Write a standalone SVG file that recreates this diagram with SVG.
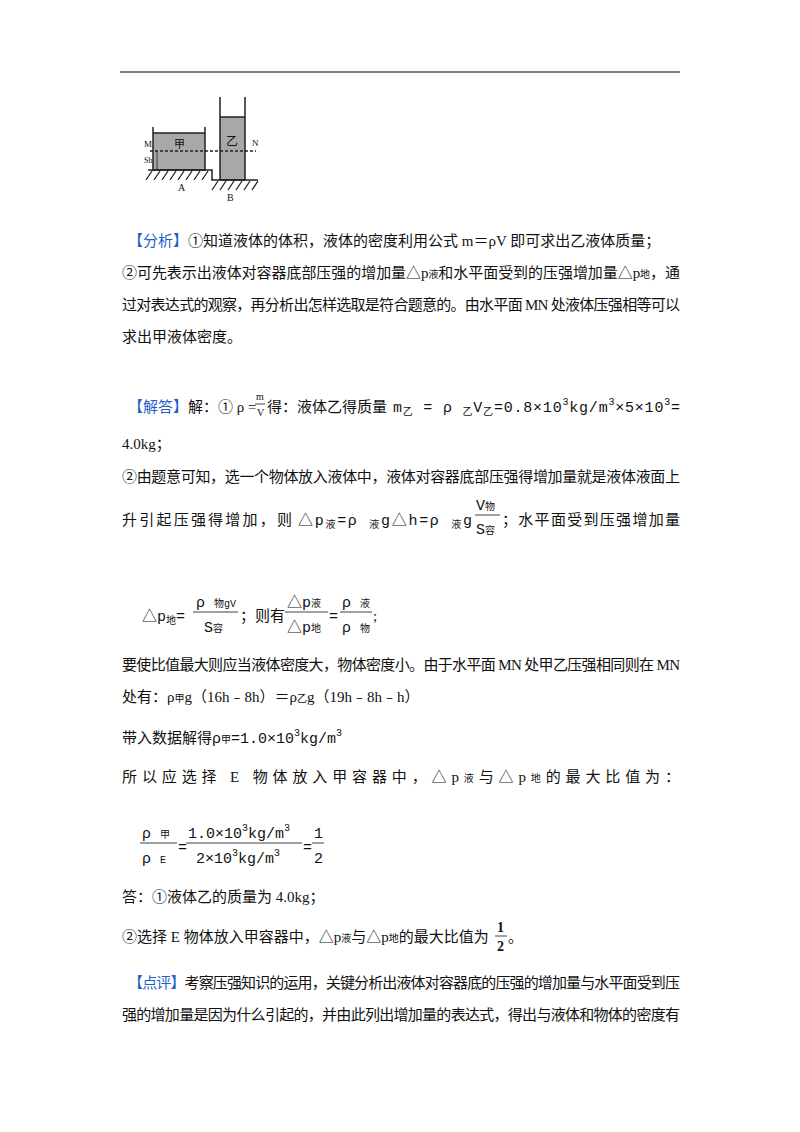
<svg xmlns="http://www.w3.org/2000/svg" width="800" height="1132" viewBox="0 0 800 1132">
<style>
text{font-family:"Liberation Serif","Noto Sans CJK SC",serif;font-size:15px;fill:#111}
.b{fill:#1f5fc8}
.s{font-size:10px}
.m{font-family:"Liberation Mono","Noto Sans CJK SC",monospace;font-size:15px}
.h{stroke:#222;stroke-width:1.3}
</style>
<rect width="800" height="1132" fill="#fff"/>
<line x1="120" y1="72" x2="680" y2="72" stroke="#000" stroke-width="1.2"/>
<g id="figure">
<rect x="153" y="133" width="52" height="37" fill="#a8a8a8"/>
<rect x="220" y="117" width="25" height="63" fill="#a8a8a8"/>
<g stroke="#222" stroke-width="1.5" fill="none">
<polyline points="153,127 153,170 205,170 205,127"/>
<line x1="153" y1="133" x2="205" y2="133"/>
<polyline points="220,97 220,180 245,180 245,97"/>
<line x1="220" y1="117" x2="245" y2="117"/>
<polyline points="148,170 212,170 212,180 258,180"/>
<line x1="150" y1="151" x2="256" y2="151" stroke-dasharray="3,2"/>
<line x1="157" y1="151" x2="157" y2="170" stroke-width="0.8"/>
</g>
<g class="h">
<path d="M152,171l-6,9M160,171l-6,9M168,171l-6,9M176,171l-6,9M184,171l-6,9M192,171l-6,9M200,171l-6,9M208,171l-6,9M218,181l-6,9M226,181l-6,9M234,181l-6,9M242,181l-6,9M250,181l-6,9M258,181l-6,9"/>
</g>
<text x="144" y="147" style="font-size:9px">M</text>
<text x="252" y="146" style="font-size:9px">N</text>
<text x="144" y="163" style="font-size:8px">Sh</text>
<text x="174" y="148" style="font-size:11px">甲</text>
<text x="226" y="146" style="font-size:12px">乙</text>
<text x="178" y="191" style="font-size:10px">A</text>
<text x="227" y="201" style="font-size:10px">B</text>
</g>
<g id="text">
<text x="128" y="246"><tspan class="b">【分析】</tspan>①知道液体的体积，液体的密度利用公式 m＝ρV 即可求出乙液体质量；</text>
<text x="122" y="278" textLength="558" lengthAdjust="spacing">②可先表示出液体对容器底部压强的增加量△p<tspan class="s">液</tspan>和水平面受到的压强增加量△p<tspan class="s">地</tspan>，通</text>
<text x="122" y="310" textLength="558" lengthAdjust="spacing">过对表达式的观察，再分析出怎样选取是符合题意的。由水平面 MN 处液体压强相等可以</text>
<text x="122" y="342">求出甲液体密度。</text>
<text x="128" y="412"><tspan class="b">【解答】</tspan>解：① ρ =</text>
<text x="256" y="400" class="s">m</text><line x1="255" y1="404" x2="265" y2="404" stroke="#111" stroke-width="0.8"/><text x="257" y="416" class="s">V</text>
<text x="267" y="412">得：液体乙得质量</text>
<text x="393" y="412" class="m" textLength="287" lengthAdjust="spacing">m<tspan class="s" dy="3">乙</tspan><tspan dy="-3"> = ρ </tspan><tspan class="s" dy="3">乙</tspan><tspan dy="-3">V</tspan><tspan class="s" dy="3">乙</tspan><tspan dy="-3">=0.8×10</tspan><tspan class="s" dy="-7">3</tspan><tspan dy="7">kg/m</tspan><tspan class="s" dy="-7">3</tspan><tspan dy="7">×5×10</tspan><tspan class="s" dy="-7">3</tspan><tspan dy="7">=</tspan></text>
<text x="122" y="449">4.0kg；</text>
<text x="122" y="482" textLength="558" lengthAdjust="spacing">②由题意可知，选一个物体放入液体中，液体对容器底部压强得增加量就是液体液面上</text>
<text x="122" y="525" textLength="170" lengthAdjust="spacing">升引起压强得增加，则</text>
<text x="298" y="525" class="m" textLength="174" lengthAdjust="spacing">△p<tspan class="s" dy="3">液</tspan><tspan dy="-3">=ρ </tspan><tspan class="s" dy="3">液</tspan><tspan dy="-3">g△h=ρ </tspan><tspan class="s" dy="3">液</tspan><tspan dy="-3">g</tspan></text>
<text x="476" y="510" class="m">V<tspan class="s">物</tspan></text>
<line x1="475" y1="515" x2="500" y2="515" stroke="#111" stroke-width="0.8"/>
<text x="476" y="534" class="m">S<tspan class="s">容</tspan></text>
<text x="502" y="525" textLength="178" lengthAdjust="spacing">；水平面受到压强增加量</text>
<text x="142" y="621" class="m">△p<tspan class="s" dy="3">地</tspan><tspan dy="-3">=</tspan></text>
<text x="196" y="607" class="m">ρ <tspan class="s">物</tspan><tspan class="s">gV</tspan></text>
<line x1="193" y1="612" x2="238" y2="612" stroke="#111" stroke-width="0.8"/>
<text x="204" y="632" class="m">S<tspan class="s">容</tspan></text>
<text x="240" y="621">；则有</text>
<text x="287" y="607" class="m">△p<tspan class="s">液</tspan></text>
<line x1="285" y1="612" x2="328" y2="612" stroke="#111" stroke-width="0.8"/>
<text x="287" y="632" class="m">△p<tspan class="s">地</tspan></text>
<text x="329" y="621" class="m">=</text>
<text x="342" y="607" class="m">ρ <tspan class="s">液</tspan></text>
<line x1="340" y1="612" x2="372" y2="612" stroke="#111" stroke-width="0.8"/>
<text x="342" y="632" class="m">ρ <tspan class="s">物</tspan></text>
<text x="373" y="621">;</text>
<text x="122" y="670" textLength="558" lengthAdjust="spacing">要使比值最大则应当液体密度大，物体密度小。由于水平面 MN 处甲乙压强相同则在 MN</text>
<text x="122" y="702">处有：ρ<tspan class="s">甲</tspan>g（16h﹣8h）＝ρ<tspan class="s">乙</tspan>g（19h﹣8h﹣h）</text>
<text x="122" y="743">带入数据解得<tspan class="m">ρ<tspan class="s">甲</tspan>=1.0×10<tspan class="s" dy="-7">3</tspan><tspan dy="7">kg/m</tspan><tspan class="s" dy="-7">3</tspan></tspan></text>
<text x="122" y="782" textLength="558" lengthAdjust="spacing">所以应选择 E 物体放入甲容器中，△p<tspan class="s">液</tspan>与△p<tspan class="s">地</tspan>的最大比值为：</text>
<text x="142" y="838" class="m">ρ <tspan class="s">甲</tspan></text>
<line x1="140" y1="843" x2="177" y2="843" stroke="#111" stroke-width="0.8"/>
<text x="142" y="863" class="m">ρ <tspan class="s">E</tspan></text>
<text x="178" y="852" class="m">=</text>
<text x="188" y="838" class="m">1.0×10<tspan class="s" dy="-7">3</tspan><tspan dy="7">kg/m</tspan><tspan class="s" dy="-7">3</tspan></text>
<line x1="186" y1="843" x2="302" y2="843" stroke="#111" stroke-width="0.8"/>
<text x="196" y="863" class="m">2×10<tspan class="s" dy="-7">3</tspan><tspan dy="7">kg/m</tspan><tspan class="s" dy="-7">3</tspan></text>
<text x="303" y="852" class="m">=</text>
<text x="314" y="838" class="m">1</text>
<line x1="312" y1="843" x2="324" y2="843" stroke="#111" stroke-width="0.8"/>
<text x="314" y="863" class="m">2</text>
<text x="122" y="902">答：①液体乙的质量为 4.0kg；</text>
<text x="122" y="942">②选择 E 物体放入甲容器中，△p<tspan class="s">液</tspan>与△p<tspan class="s">地</tspan>的最大比值为</text>
<text x="497" y="932" style="font-size:14px;font-weight:bold">1</text>
<line x1="495" y1="936" x2="507" y2="936" stroke="#111" stroke-width="0.8"/>
<text x="497" y="951" style="font-size:14px;font-weight:bold">2</text>
<text x="508" y="942">。</text>
<text x="128" y="988" textLength="552" lengthAdjust="spacing"><tspan class="b">【点评】</tspan>考察压强知识的运用，关键分析出液体对容器底的压强的增加量与水平面受到压</text>
<text x="122" y="1020" textLength="558" lengthAdjust="spacing">强的增加量是因为什么引起的，并由此列出增加量的表达式，得出与液体和物体的密度有</text>
</g>
</svg>
